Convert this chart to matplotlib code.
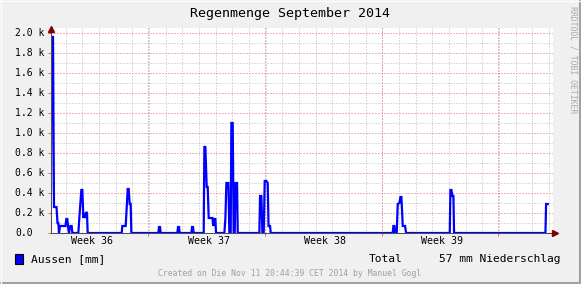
import numpy as np
import matplotlib
matplotlib.use("Agg")
import matplotlib.pyplot as plt
from matplotlib.patches import Rectangle
from matplotlib.lines import Line2D
import matplotlib.transforms as mtrans

# rain amount, time in days since start of September 2014, values in k
days = [0.00, 0.03, 0.12, 0.18, 0.33, 0.39, 0.44, 0.48, 0.54, 0.87, 0.92, 0.98,
        1.04, 1.08, 1.16, 1.24, 1.28, 1.64, 1.70, 1.82, 1.88, 1.94, 1.98, 2.04,
        2.12, 2.16, 2.20,
        4.24, 4.28, 4.48, 4.54, 4.60, 4.66, 4.72, 4.78, 4.82,
        6.44, 6.48, 6.54, 6.58, 7.58, 7.62, 7.68, 7.72, 8.42, 8.46, 8.52, 8.56,
        9.16, 9.20, 9.26, 9.34, 9.40, 9.46, 9.68, 9.74, 9.80, 9.86, 9.90,
        10.40, 10.46, 10.52, 10.64, 10.70, 10.78, 10.82, 10.90, 10.96,
        11.02, 11.07, 11.16, 11.20,
        12.50, 12.54, 12.62, 12.68, 12.76, 12.82, 12.92, 13.00, 13.05, 13.14, 13.18,
        20.50, 20.54, 20.60, 20.64, 20.74, 20.80, 20.90, 20.96, 21.02, 21.10, 21.24, 21.30,
        23.92, 23.96, 24.02, 24.08, 24.14, 24.18,
        29.66, 29.70, 29.80]
rain = [0.43, 1.96, 1.96, 0.26, 0.26, 0.10, 0.10, 0.00, 0.07, 0.07, 0.14, 0.14,
        0.04, 0.00, 0.07, 0.07, 0.00, 0.00, 0.15, 0.43, 0.43, 0.15, 0.20, 0.15,
        0.21, 0.20, 0.00,
        0.00, 0.07, 0.07, 0.25, 0.44, 0.44, 0.29, 0.29, 0.00,
        0.00, 0.06, 0.06, 0.00, 0.00, 0.06, 0.06, 0.00, 0.00, 0.06, 0.06, 0.00,
        0.00, 0.86, 0.86, 0.46, 0.46, 0.15, 0.15, 0.07, 0.14, 0.14, 0.00,
        0.00, 0.14, 0.50, 0.50, 0.00, 0.00, 1.10, 1.10, 0.00,
        0.00, 0.50, 0.50, 0.00,
        0.00, 0.37, 0.37, 0.00, 0.00, 0.52, 0.52, 0.50, 0.07, 0.07, 0.00,
        0.00, 0.07, 0.07, 0.00, 0.00, 0.29, 0.30, 0.36, 0.36, 0.07, 0.07, 0.00,
        0.00, 0.43, 0.43, 0.37, 0.37, 0.00,
        0.00, 0.29, 0.29]

week_labels = ["Week 36", "Week 37", "Week 38", "Week 39"]
week_pos = [2.43, 9.45, 16.44, 23.43]
major_x = [5.84, 12.84, 19.84, 26.84]
minor_x = [0.88 + i for i in range(30)]
y_major = [0.0, 0.2, 0.4, 0.6, 0.8, 1.0, 1.2, 1.4, 1.6, 1.8, 2.0]
y_labels = ["0.0"] + ["%.1f k" % v for v in y_major[1:]]

W, H = 581, 284
MONO = "DejaVu Sans Mono"
BG = "#F0F0F0"
GRID = "#B8B8B8"
MGRID = "#DC7070"

fig = plt.figure(figsize=(W / 100, H / 100), dpi=100, facecolor=BG)

def fx(px):
    return px / W

def fy(py):
    return 1 - py / H

ax = fig.add_axes([fx(51), fy(233), fx(553) - fx(51), fy(28) - fy(233)])
ax.set_facecolor("white")
ax.set_xlim(0, 502 / 16.67)
ax.set_ylim(0, 2.05)

# dotted grid
dots = dict(lw=0.72, ls=(0, (1, 2)))
for x in minor_x:
    ax.axvline(x, color=GRID, zorder=1, **dots)
for y in np.arange(0.1, 2.05, 0.2):
    ax.axhline(y, color=GRID, zorder=1, **dots)
for x in major_x:
    ax.axvline(x, color=MGRID, zorder=1.1, **dots)
for y in y_major[1:]:
    ax.axhline(y, color=MGRID, zorder=1.1, **dots)

ax.plot(days, rain, color="#0000FF", lw=1.6, zorder=3, solid_joinstyle="miter")

for s in ["top", "right"]:
    ax.spines[s].set_visible(False)
for s in ["left", "bottom"]:
    ax.spines[s].set_color("#505050")
    ax.spines[s].set_linewidth(0.75)
    ax.spines[s].set_zorder(4)

ax.set_xticks(major_x)
ax.set_xticklabels([])
ax.tick_params(axis="x", length=2.5, width=0.72, color="#D07070", direction="out")
ax.set_yticks(y_major)
ax.set_yticklabels([])
ax.tick_params(axis="y", length=2, width=0.72, color="#D07070", direction="out")

# y labels
ytr = mtrans.blended_transform_factory(fig.transFigure, ax.transData)
for v, lab in zip(y_major, y_labels):
    fig.text(fx(15), v, lab, transform=ytr, ha="left", va="center",
             family=MONO, fontsize=7, color="black")

# week labels
xtr = mtrans.blended_transform_factory(ax.transData, fig.transFigure)
for x, lab in zip(week_pos, week_labels):
    fig.text(x, fy(241), lab, transform=xtr, ha="center", va="center",
             family=MONO, fontsize=7.2, color="black")

# arrows
fig.add_artist(Line2D([fx(51)], [fy(28.5)], marker="^", ms=4, color="#7F0000",
                      mec="#7F0000", transform=fig.transFigure))
fig.add_artist(Line2D([fx(555)], [fy(233)], marker=">", ms=4, color="#7F0000",
                      mec="#7F0000", transform=fig.transFigure))

fig.text(fx(290), fy(14), "Regenmenge September 2014", ha="center", va="center",
         family=MONO, fontsize=9.6, color="black")

# legend
fig.add_artist(Rectangle((fx(15), fy(264)), fx(8), 10 / H, transform=fig.transFigure,
                         facecolor="#0000FF", edgecolor="black", lw=0.8))
fig.text(fx(31), fy(259), "Aussen [mm]", ha="left", va="center",
         family=MONO, fontsize=8.1, color="black")
fig.text(fx(368.5), fy(259), "Total", ha="left", va="center",
         family=MONO, fontsize=8.1, color="black")
fig.text(fx(439), fy(259), "57 mm Niederschlag", ha="left", va="center",
         family=MONO, fontsize=8.1, color="black")

fig.text(fx(290), fy(273), "Created on Die Nov 11 20:44:39 CET 2014 by Manuel Gogl",
         ha="center", va="center", family=MONO, fontsize=5.9, color="#A0A0A0")

fig.text(fx(572.5), fy(60), "RRDTOOL / TOBI OETIKER", ha="center", va="center",
         rotation=270, family=MONO, fontsize=5.9, color="#A8A8A8")

# canvas border shading
fig.add_artist(Line2D([0, 1], [fy(283), fy(283)], color="#A0A0A0", lw=1.5,
                      transform=fig.transFigure))
fig.add_artist(Line2D([fx(580), fx(580)], [0, 1], color="#A0A0A0", lw=1.5,
                      transform=fig.transFigure))
fig.add_artist(Line2D([0, 1], [fy(0.5), fy(0.5)], color="#FCFCFC", lw=1,
                      transform=fig.transFigure))
fig.add_artist(Line2D([fx(0.5), fx(0.5)], [0, 1], color="#FCFCFC", lw=1,
                      transform=fig.transFigure))

fig.savefig("out.png", dpi=100, facecolor=BG)
